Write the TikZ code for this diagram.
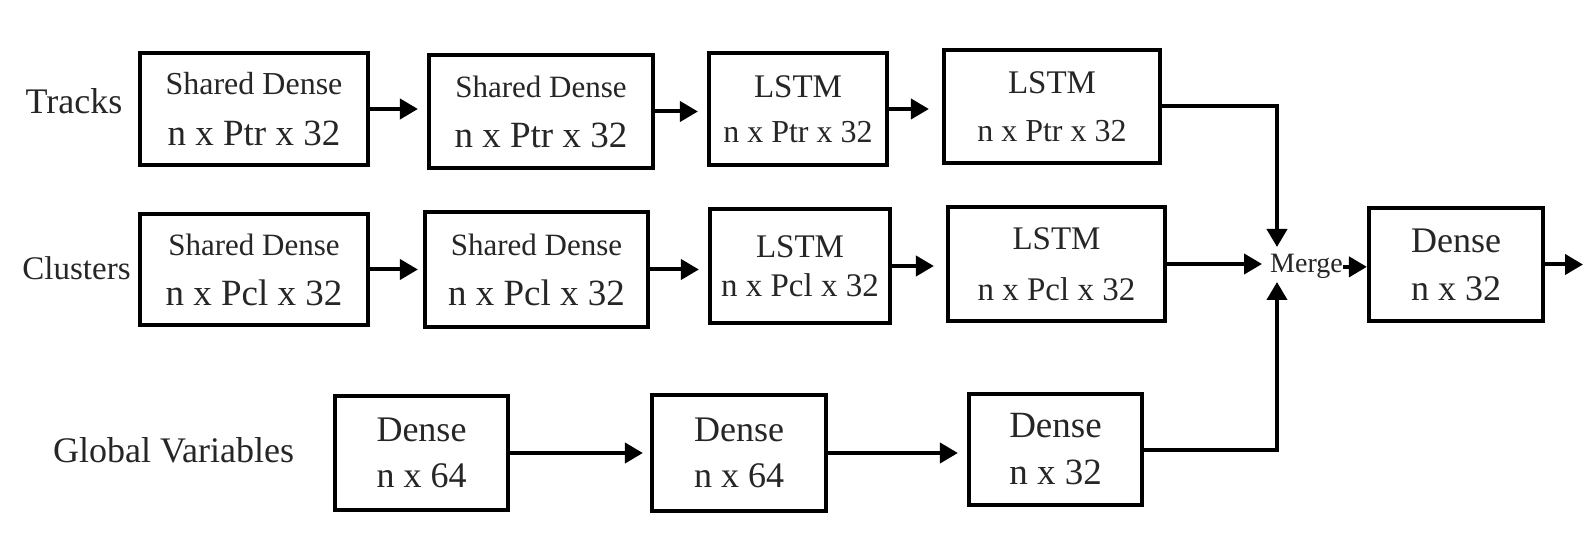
\documentclass[tikz,border=0pt]{standalone}
\usepackage{fontspec}
\setmainfont{Liberation Serif}
\usetikzlibrary{arrows.meta,calc}
\newcommand\tline[2]{{\fontsize{#1}{#1}\selectfont #2}}
\begin{document}
\begin{tikzpicture}[x=1pt,y=-1pt,
  box/.style={draw=black, line width=4.2pt, align=center, inner sep=0pt, text=black!85},
  bx/.style n args={3}{minimum width=#1, minimum height=#2, font=\fontsize{34}{#3}\selectfont},
  lbl/.style={text=black!85, inner sep=0pt, anchor=base},
  arr/.style={line width=4pt, shorten >=9pt, -{Triangle[length=18pt,width=20pt]}},
  arr0/.style={line width=4pt, -{Triangle[length=18pt,width=20pt]}}
]
\useasboundingbox[fill=white] (0,0) rectangle (1584,534);

% labels
\node[lbl, font=\fontsize{36}{36}\selectfont] (tracks) at (74,114) {Tracks};
\node[lbl, font=\fontsize{33}{33}\selectfont] (clusters) at (76.5,280) {Clusters};
\node[lbl, font=\fontsize{36}{36}\selectfont] (global) at (173.5,462) {Global Variables};

% tracks row
\node[box, bx={228pt}{112pt}{51pt}] (T1) at (254,109) {\tline{32}{Shared Dense}\\\tline{37}{n x Ptr x 32}};
\node[box, bx={224pt}{113pt}{50pt}] (T2) at (541,111.5) {\tline{31}{Shared Dense}\\\tline{37}{n x Ptr x 32}};
\node[box, bx={178pt}{112pt}{45pt}] (T3) at (798,109) {\tline{33}{LSTM}\\\tline{32}{n x Ptr x 32}};
\node[box, bx={216pt}{113pt}{48pt}] (T4) at (1052,106.5) {\tline{33}{LSTM}\\\tline{32}{n x Ptr x 32}};

% clusters row
\node[box, bx={228pt}{111pt}{50pt}] (C1) at (254,269.5) {\tline{31}{Shared Dense}\\\tline{37}{n x Pcl x 32}};
\node[box, bx={223pt}{115pt}{50pt}] (C2) at (536.5,269.5) {\tline{31}{Shared Dense}\\\tline{37}{n x Pcl x 32}};
\node[box, bx={180pt}{114pt}{39pt}] (C3) at (800,266) {\tline{33}{LSTM}\\\tline{33}{n x Pcl x 32}};
\node[box, bx={217pt}{114pt}{51pt}] (C4) at (1056.5,264) {\tline{33}{LSTM}\\\tline{33}{n x Pcl x 32}};

% global row
\node[box, bx={173pt}{114pt}{46pt}] (G1) at (421.5,453) {\tline{36}{Dense}\\\tline{36}{n x 64}};
\node[box, bx={174pt}{116pt}{46pt}] (G2) at (739,453) {\tline{36}{Dense}\\\tline{36}{n x 64}};
\node[box, bx={173pt}{111pt}{47pt}] (G3) at (1055.5,449.5) {\tline{37}{Dense}\\\tline{37}{n x 32}};

% merge and output
\node[lbl, font=\fontsize{28}{28}\selectfont] (merge) at (1306.5,273) {Merge};
\node[box, bx={174pt}{113pt}{48pt}] (D) at (1456,264.5) {\tline{36}{Dense}\\\tline{36}{n x 32}};
\coordinate (mT) at (1277,247);
\coordinate (mB) at (1277,282);
\coordinate (out) at (1583,264.5);

% connectors
\draw[arr] (T1.east) -- (T1.east -| T2.west);
\draw[arr] (T2.east) -- (T2.east -| T3.west);
\draw[arr, shorten >=13pt] (T3.east) -- (T3.east -| T4.west);
\draw[arr, shorten >=5pt] (C1.east) -- (C1.east -| C2.west);
\draw[arr] (C2.east) -- (C2.east -| C3.west);
\draw[arr, shorten >=12pt] (C3.east) -- (C3.east -| C4.west);
\draw[arr, shorten >=7pt] (G1.east) -- (G1.east -| G2.west);
\draw[arr] (G2.east) -- (G2.east -| G3.west);
\draw[arr0] (T4.east) -| (mT);
\draw[arr, shorten >=8pt] (C4.east) -- (C4.east -| merge.west);
\draw[arr0] (G3.east) -| (mB);
\draw[arr0] (merge.east) -- (merge.east -| D.west);
\draw[arr0] (D.east) -- (out);
\end{tikzpicture}
\end{document}
